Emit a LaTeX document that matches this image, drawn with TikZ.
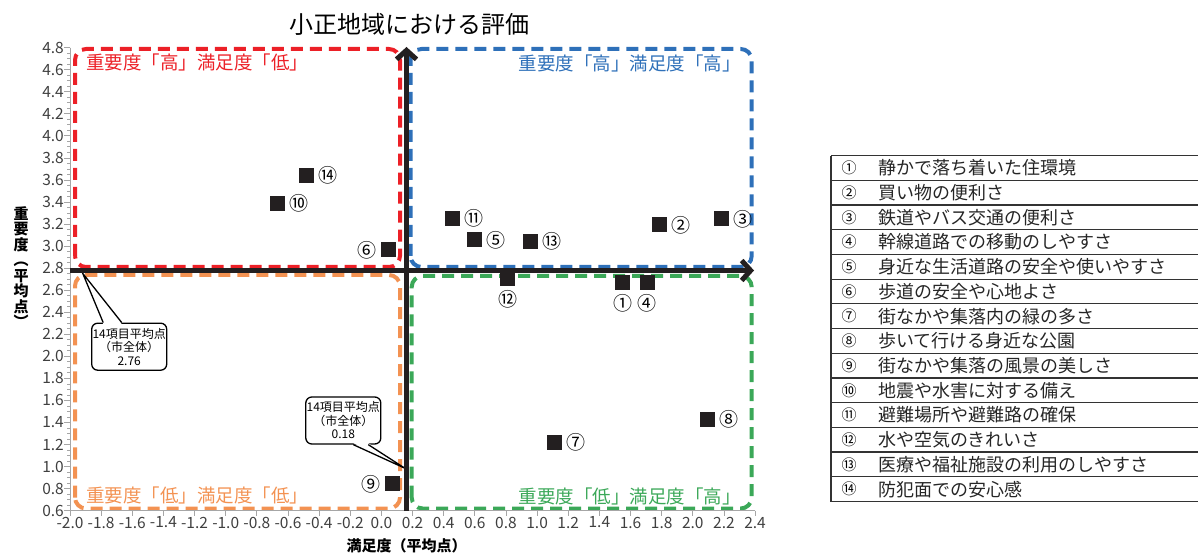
\documentclass[tikz,border=0pt]{standalone}
\usepackage{fontspec}
\setmainfont{Noto Sans CJK JP}
\usetikzlibrary{positioning,arrows.meta}
\definecolor{hired}{RGB}{236,32,39}
\definecolor{hiblue}{RGB}{46,112,185}
\definecolor{looran}{RGB}{243,146,82}
\definecolor{logreen}{RGB}{59,168,88}
\definecolor{axisblk}{RGB}{35,31,32}
\begin{document}
\begin{tikzpicture}[x=1pt,y=1pt,
  quad/.style={line width=4pt,rounded corners=11pt,dash pattern=on 12pt off 7pt},
  qlab/.style={font=\fontsize{18.5}{18.5}\selectfont,inner sep=0},
  axarrow/.style={line width=5pt,color=axisblk,-{Straight Barb[length=9pt,width=20pt]}},
  pt/.style={fill=axisblk,minimum size=15pt,inner sep=0},
  ptlab/.style={font=\fontsize{19}{19}\selectfont,inner sep=0},
  axtick/.style={gray!70,line width=0.8pt},
  ticklab/.style={font=\fontsize{15.5}{15.5}\selectfont,text=black!75,inner sep=0},
  avgbox/.style={draw,line width=1.3pt,rounded corners=6pt,fill=white,minimum width=75pt,minimum height=47pt,align=center,inner sep=0,font=\fontsize{12}{13.5}\selectfont},
  tabline/.style={black!80,line width=1.2pt}]
\useasboundingbox (0,0) rectangle (1198,554);
\node[font=\fontsize{24}{24}\selectfont] (title) at (409,530) {小正地域における評価};
% quadrants
\draw[quad,hired] (75,287) rectangle (400,505);
\draw[quad,hiblue] (410.5,287) rectangle (751.7,505);
\draw[quad,looran] (75,45.5) rectangle (400,279);
\draw[quad,logreen] (411.7,45.5) rectangle (751.7,278);
\node[qlab,text=hired,anchor=west] (qrl) at (86,492) {重要度「高」満足度「低」};
\node[qlab,text=hiblue,anchor=east] (qbl) at (741,491) {重要度「高」満足度「高」};
\node[qlab,text=looran,anchor=west] (qol) at (86,59) {重要度「低」満足度「低」};
\node[qlab,text=logreen,anchor=east] (qgl) at (741,58) {重要度「低」満足度「高」};
% axes and points
\begin{scope}[shift={(381.4pt,-22.85pt)},x=155.7pt,y=110.24pt]
\draw[axtick] (-2,4.8) -- (-2,0.6) -- (2.4,0.6);
\foreach \k in {0,...,84} \draw[axtick] (-2,{0.6+0.05*\k}) -- ++(-3pt,0);
\foreach \w [count=\i] in {0.6,0.8,1.0,1.2,1.4,1.6,1.8,2.0,2.2,2.4,2.6,2.8,3.0,3.2,3.4,3.6,3.8,4.0,4.2,4.4,4.6,4.8} {
  \draw[axtick] (-2,\w) -- ++(-6pt,0);
  \node[ticklab,anchor=east,xshift=-6pt] (yl\i) at (-2,\w) {\w};
}
\foreach \v [count=\i] in {-2.0,-1.8,-1.6,-1.4,-1.2,-1.0,-0.8,-0.6,-0.4,-0.2,0.0,0.2,0.4,0.6,0.8,1.0,1.2,1.4,1.6,1.8,2.0,2.2,2.4} {
  \draw[axtick] (\v,0.6) -- ++(0,-5pt);
  \node[ticklab,anchor=north,yshift=-6pt] (xl\i) at (\v,0.6) {\v};
}
\node[pt] (p1) at (1.550,2.673) {};  \node[ptlab,below=4pt of p1] (l1) {①};
\node[pt] (p2) at (1.789,3.193) {};  \node[ptlab,right=4pt of p2] (l2) {②};
\node[pt] (p3) at (2.186,3.247) {};  \node[ptlab,right=4pt of p3] (l3) {③};
\node[pt] (p4) at (1.708,2.673) {};  \node[ptlab,below=4pt of p4] (l4) {④};
\node[pt] (p5) at (0.599,3.057) {};  \node[ptlab,right=4pt of p5] (l5) {⑤};
\node[pt] (p6) at (0.044,2.966) {};  \node[ptlab,left=4pt of p6] (l6) {⑥};
\node[pt] (p7) at (1.110,1.219) {};  \node[ptlab,right=4pt of p7] (l7) {⑦};
\node[pt] (p8) at (2.093,1.425) {};  \node[ptlab,right=4pt of p8] (l8) {⑧};
\node[pt] (p9) at (0.073,0.844) {};  \node[ptlab,left=4pt of p9] (l9) {⑨};
\node[pt] (p10) at (-0.666,3.390) {}; \node[ptlab,right=4pt of p10] (l10) {⑩};
\node[pt] (p11) at (0.455,3.253) {}; \node[ptlab,right=4pt of p11] (l11) {⑪};
\node[pt] (p12) at (0.811,2.709) {}; \node[ptlab,below=4pt of p12] (l12) {⑫};
\node[pt] (p13) at (0.959,3.041) {}; \node[ptlab,right=4pt of p13] (l13) {⑬};
\node[pt] (p14) at (-0.480,3.640) {}; \node[ptlab,right=4pt of p14] (l14) {⑭};
\end{scope}
\node[font=\fontsize{15}{15.5}\selectfont\bfseries,align=center,inner sep=0] (ytitle) at (21,287) {重\\要\\度\\︵\\平\\均\\点\\︶};
\node[font=\fontsize{15}{15}\selectfont\bfseries] (xtitle) at (406.5,8) {満足度（平均点）};
% average callouts
\node[avgbox] (avg1) at (129.2,207.3) {14項目平均点\\（市全体）\\2.76};
\coordinate (avg1tip) at (82.7,280.7);
\coordinate (avg1a) at ([xshift=-26pt]avg1.north);
\coordinate (avg1b) at ([xshift=-7.5pt]avg1.north);
\fill[white] ([yshift=-1.5pt]avg1a) -- (avg1tip) -- ([yshift=-1.5pt]avg1b) -- cycle;
\draw[line width=1.3pt] (avg1a) -- (avg1tip) -- (avg1b);
\node[avgbox] (avg2) at (343.3,133.5) {14項目平均点\\（市全体）\\0.18};
\coordinate (avg2tip) at (405,85.7);
\coordinate (avg2a) at ([xshift=10pt]avg2.south);
\coordinate (avg2b) at ([xshift=25pt]avg2.south);
\fill[white] ([yshift=1.5pt]avg2a) -- (avg2tip) -- ([yshift=1.5pt]avg2b) -- cycle;
\draw[line width=1.3pt] (avg2a) -- (avg2tip) -- (avg2b);
% cross axes
\coordinate (hl) at (70,283.5);
\coordinate (hr) at (754,283.5);
\coordinate (vb) at (406.5,43);
\coordinate (vt) at (406.5,507);
\draw[axarrow] (hl) -- (hr);
\draw[axarrow] (vb) -- (vt);
% item table
\foreach \k in {0,...,14} \draw[tabline] (831,{398.3-\k*24.7}) -- (1198,{398.3-\k*24.7});
\draw[tabline] (831,398.3) -- (831,52.5);
\foreach \n/\t [count=\k] in {①/静かで落ち着いた住環境,②/買い物の便利さ,③/鉄道やバス交通の便利さ,④/幹線道路での移動のしやすさ,⑤/身近な生活道路の安全や使いやすさ,⑥/歩道の安全や心地よさ,⑦/街なかや集落内の緑の多さ,⑧/歩いて行ける身近な公園,⑨/街なかや集落の風景の美しさ,⑩/地震や水害に対する備え,⑪/避難場所や避難路の確保,⑫/水や空気のきれいさ,⑬/医療や福祉施設の利用のしやすさ,⑭/防犯面での安心感} {
  \node[font=\fontsize{15}{15}\selectfont,inner sep=0] (n\k) at (849,{398.3-(\k-0.5)*24.7}) {\n};
  \node[font=\fontsize{18}{18}\selectfont,inner sep=0,anchor=west,text=black!85] (t\k) at (878,{398.3-(\k-0.5)*24.7}) {\t};
}
\end{tikzpicture}
\end{document}
